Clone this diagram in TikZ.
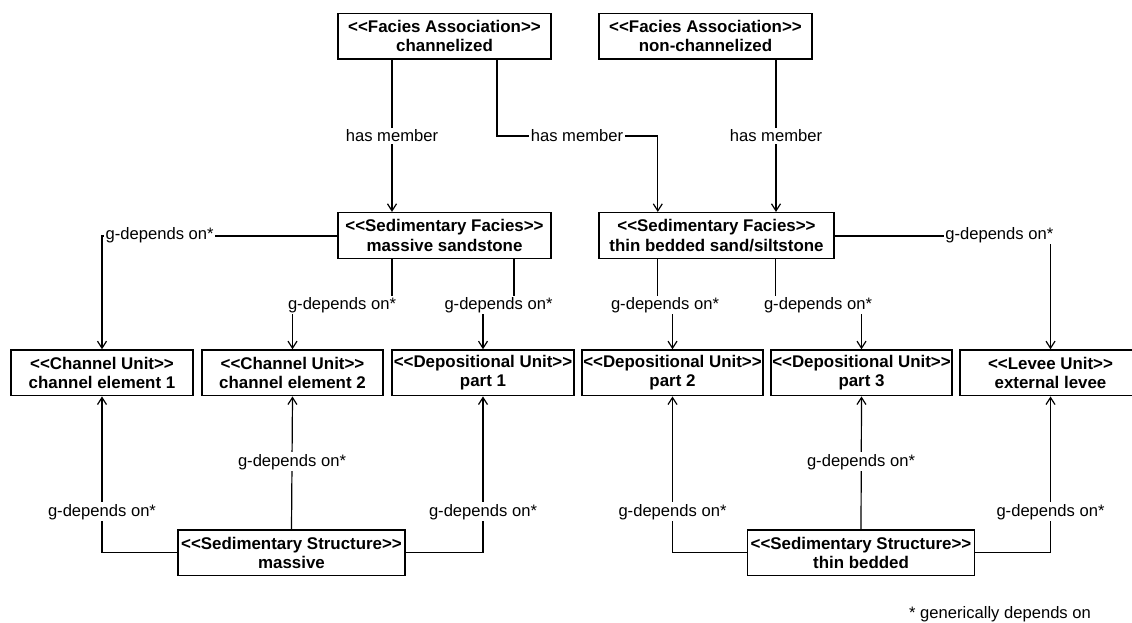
\documentclass[tikz,border=0pt]{standalone}
\usepackage{fontspec}
\setmainfont{Liberation Sans}
\usetikzlibrary{arrows.meta}

% stereotype brackets, kept apart so they never ligate
\newcommand\stereotype[1]{<{}<#1>{}>}

\begin{document}
\begin{tikzpicture}[
  x=1pt, y=-1pt,
  font=\fontsize{16.6}{19.3}\selectfont,
  entity/.style={draw, line width=1.5pt, rectangle, align=center,
    font=\fontsize{16.9}{19.3}\selectfont\bfseries,
    minimum height=45.7pt, inner sep=0pt},
  link/.style={line width=1.2pt},
  dep/.style={link, -{Straight Barb[length=7pt,width=9pt,line width=1.2pt]}},
  lbl/.style={fill=white, inner sep=1.5pt}
]
\useasboundingbox (0,0) rectangle (1132,622);

% facies associations
\node[entity, minimum width=213pt] (chan)  at (444.5,36.2) {\stereotype{Facies Association}\\channelized};
\node[entity, minimum width=213pt] (nchan) at (705.5,36.2) {\stereotype{Facies Association}\\non-channelized};

% sedimentary facies
\node[entity, minimum width=213pt] (sand) at (444.5,235.5) {\stereotype{Sedimentary Facies}\\massive sandstone};
\node[entity, minimum width=235pt] (thin) at (716.5,235.5) {\stereotype{Sedimentary Facies}\\thin bedded sand/siltstone};

% units
\node[entity, minimum width=182pt] (ce1)   at (102,372.85)   {\stereotype{Channel Unit}\\channel element 1};
\node[entity, minimum width=181pt] (ce2)   at (292.5,372.85) {\stereotype{Channel Unit}\\channel element 2};
\node[entity, minimum width=182pt] (p1)    at (483,372.85)   {\stereotype{Depositional Unit}\\part 1};
\node[entity, minimum width=181pt] (p2)    at (672.5,372.85) {\stereotype{Depositional Unit}\\part 2};
\node[entity, minimum width=181pt] (p3)    at (861.5,372.85) {\stereotype{Depositional Unit}\\part 3};
\node[entity, minimum width=181pt] (levee) at (1050.5,372.85) {\stereotype{Levee Unit}\\external levee};

% sedimentary structures
\node[entity, minimum width=227pt] (mass) at (291.5,552.85) {\stereotype{Sedimentary Structure}\\massive};
\node[entity, minimum width=227pt] (bed)  at (861,552.85)   {\stereotype{Sedimentary Structure}\\thin bedded};

% membership
\draw[dep] ([xshift=-52.5pt]chan.south) -- ([xshift=-52.5pt]sand.north);
\draw[dep] ([xshift=52.5pt]chan.south) |- (600,136) -| ([xshift=-58.7pt]thin.north);
\draw[dep] ([xshift=70.5pt]nchan.south) -- ([xshift=59.5pt]thin.north);

% facies to units
\draw[dep] ([yshift=-0.5pt]sand.west) -| (ce1.north);
\draw[dep] ([xshift=-52.5pt]sand.south) |- (342,305) -| (ce2.north);
\draw[dep] ([xshift=69.5pt]sand.south) |- (498,305) -| (p1.north);
\draw[dep] ([xshift=-58.7pt]thin.south) |- (665,305) -| (p2.north);
\draw[dep] ([xshift=58.8pt]thin.south) |- (818,305) -| (p3.north);
\draw[dep] ([yshift=-0.5pt]thin.east) -| (levee.north);

% structures to units
\draw[dep] (mass.west) -| (ce1.south);
\draw[dep] (mass.north) -- (ce2.south);
\draw[dep] (mass.east) -| (p1.south);
\draw[dep] (bed.west) -| (p2.south);
\draw[dep] (bed.north) -- (p3.south);
\draw[dep] (bed.east) -| (levee.south);

% connector labels
\node[lbl] (m1) at (392,136) {has member};
\node[lbl] (m2) at (577,136) {has member};
\node[lbl] (m3) at (776,136) {has member};

\node[lbl, anchor=west] (g1) at (104,235) {g-depends on*};
\node[lbl] (g2) at (342,305) {g-depends on*};
\node[lbl] (g3) at (498.5,305) {g-depends on*};
\node[lbl] (g4) at (665,305) {g-depends on*};
\node[lbl] (g5) at (818,305) {g-depends on*};
\node[lbl, anchor=east] (g6) at (1055,235) {g-depends on*};

\node[lbl] (g7) at (102,511.7) {g-depends on*};
\node[lbl] (g8) at (292,461.7) {g-depends on*};
\node[lbl] (g9) at (483,511.7) {g-depends on*};
\node[lbl] (g10) at (672.5,511.7) {g-depends on*};
\node[lbl] (g11) at (861,461.7) {g-depends on*};
\node[lbl] (g12) at (1050.5,511.7) {g-depends on*};

% footnote
\node (note) at (1000,614) {* generically depends on};
\end{tikzpicture}
\end{document}
